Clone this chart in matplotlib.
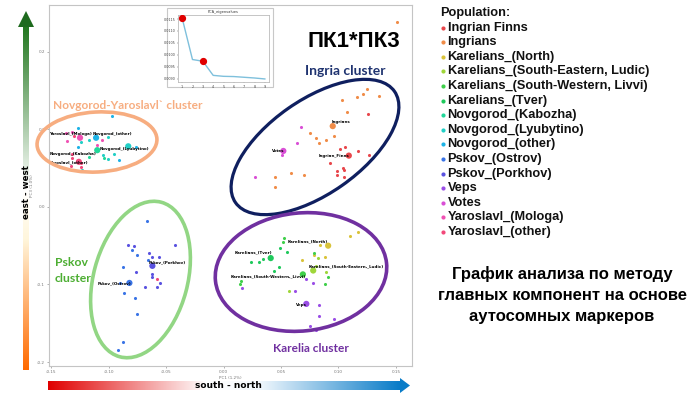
import numpy as np
import matplotlib
matplotlib.use("Agg")
import matplotlib.pyplot as plt
from matplotlib.patches import Ellipse, Polygon, Rectangle
from matplotlib.colors import LinearSegmentedColormap

# ---------------- data ----------------
populations = ["Ingrian Finns", "Ingrians", "Karelians_(North)",
               "Karelians_(South-Eastern, Ludic)", "Karelians_(South-Western, Livvi)",
               "Karelians_(Tver)", "Novgorod_(Kabozha)", "Novgorod_(Lyubytino)",
               "Novgorod_(other)", "Pskov_(Ostrov)", "Pskov_(Porkhov)", "Veps", "Votes",
               "Yaroslavl_(Mologa)", "Yaroslavl_(other)"]
point_labels = ["Ingrian_Finns", "Ingrians", "Karelians_(North)",
                "Karelians_(South-Eastern,_Ludic)", "Karelians_(South-Western,_Livvi)",
                "Karelians_(Tver)", "Novgorod_(Kabozha)", "Novgorod_(Lyubytino)",
                "Novgorod_(other)", "Pskov_(Ostrov)", "Pskov_(Porkhov)", "Veps", "Votes",
                "Yaroslavl_(Mologa)", "Yaroslavl_(other)"]
colors = ['#e8474c', '#f08c48', '#d9c33a', '#9fd63a', '#3fcf4a', '#1fc95c', '#22d79a',
          '#22cfc6', '#1eb3e6', '#3a74e6', '#5a52e0', '#9a4ee6', '#d94fd6', '#f052b4', '#f2487a']

ingrian_finns_x = [0.126, 0.106, 0.101, 0.109, 0.117, 0.127, 0.093, 0.104, 0.105, 0.099, 0.099, 0.105]
ingrian_finns_y = [0.120, 0.077, 0.075, 0.066, 0.072, 0.067, 0.057, 0.050, 0.048, 0.046, 0.041, 0.039]
ingrians_x = [0.151, 0.125, 0.121, 0.116, 0.135, 0.103, 0.107, 0.095, 0.075, 0.080, 0.083, 0.089,
              0.096, 0.070, 0.059, 0.045, 0.045]
ingrians_y = [0.238, 0.152, 0.145, 0.141, 0.143, 0.138, 0.122, 0.104, 0.095, 0.089, 0.082, 0.086,
              0.091, 0.041, 0.044, 0.039, 0.026]
karel_north_x = [0.117, 0.110, 0.091, 0.084, 0.079, 0.068, 0.088]
karel_north_y = [-0.032, -0.037, -0.050, -0.049, -0.062, -0.068, -0.064]
karel_se_x = [0.078, 0.089, 0.080, 0.057, 0.082]
karel_se_y = [-0.082, -0.084, -0.076, -0.108, -0.066]
karel_sw_x = [0.053, 0.052, 0.069, 0.015, 0.014, 0.088, 0.091, 0.079]
karel_sw_y = [-0.040, -0.045, -0.087, -0.095, -0.099, -0.100, -0.091, -0.059]
karel_tver_x = [0.041, 0.024, 0.031, 0.034, 0.044, 0.048, 0.049, 0.055]
karel_tver_y = [-0.066, -0.071, -0.071, -0.067, -0.082, -0.078, -0.053, -0.058]
nov_kabozha_x = [-0.110, -0.117, -0.104]
nov_kabozha_y = [0.073, 0.064, 0.063]
nov_lyub_x = [-0.117, -0.101, -0.083, -0.105, -0.095, -0.101, -0.123, -0.124]
nov_lyub_y = [0.086, 0.090, 0.078, 0.067, 0.068, 0.062, 0.048, 0.084]
nov_other_x = [-0.097, -0.127, -0.111, -0.127, -0.076, -0.091]
nov_other_y = [0.117, 0.102, 0.089, 0.077, 0.077, 0.060]
pskov_ostrov_x = [-0.067, -0.080, -0.075, -0.066, -0.088, -0.082, -0.090, -0.087, -0.077, -0.075,
                  -0.088, -0.092]
pskov_ostrov_y = [-0.018, -0.055, -0.062, -0.068, -0.077, -0.098, -0.098, -0.111, -0.118, -0.138,
                  -0.174, -0.184]
pskov_porkhov_x = [-0.083, -0.078, -0.065, -0.062, -0.056, -0.042, -0.062, -0.076, -0.062, -0.062,
                   -0.055, -0.068, -0.058]
pskov_porkhov_y = [-0.049, -0.050, -0.060, -0.064, -0.064, -0.049, -0.076, -0.084, -0.087, -0.091,
                   -0.098, -0.103, -0.103]
veps_x = [0.016, 0.062, 0.072, 0.078, 0.072, 0.083, 0.083, 0.096, 0.075, 0.080]
veps_y = [-0.104, -0.108, -0.093, -0.098, -0.125, -0.126, -0.140, -0.145, -0.153, -0.158]
votes_x = [0.067, 0.064, 0.052, 0.051, 0.027]
votes_y = [0.103, 0.082, 0.072, 0.067, 0.039]
yar_mologa_x = [-0.137, -0.132, -0.125, -0.136, -0.106, -0.110]
yar_mologa_y = [0.095, 0.097, 0.089, 0.085, 0.086, 0.080]
yar_other_x = [-0.132, -0.132, -0.124, -0.133, -0.124, -0.130, -0.058]
yar_other_y = [0.068, 0.063, 0.057, 0.053, 0.051, 0.091, -0.093]

# population centroids (large markers)
centroid_x = [0.109, 0.095, 0.091, 0.078, 0.069, 0.041, -0.110, -0.083, -0.111, -0.082, -0.062,
              0.072, 0.052, -0.125, -0.126]
centroid_y = [0.066, 0.104, -0.050, -0.082, -0.087, -0.066, 0.073, 0.078, 0.089, -0.098, -0.076,
              -0.125, 0.072, 0.089, 0.058]

# scree plot (inset)
eigen_pc = [1, 2, 3, 4, 5, 6, 7, 8, 9]
eigenvalues = [0.01154, 0.00981, 0.00974, 0.00915, 0.00911, 0.00910, 0.00907, 0.00904, 0.00900]

xs = [ingrian_finns_x, ingrians_x, karel_north_x, karel_se_x, karel_sw_x, karel_tver_x,
      nov_kabozha_x, nov_lyub_x, nov_other_x, pskov_ostrov_x, pskov_porkhov_x, veps_x, votes_x,
      yar_mologa_x, yar_other_x]
ys = [ingrian_finns_y, ingrians_y, karel_north_y, karel_se_y, karel_sw_y, karel_tver_y,
      nov_kabozha_y, nov_lyub_y, nov_other_y, pskov_ostrov_y, pskov_porkhov_y, veps_y, votes_y,
      yar_mologa_y, yar_other_y]

# label anchor positions (left edge, data coords)
label_pos = {
    "Ingrian_Finns": (0.0825, 0.066), "Ingrians": (0.094, 0.109),
    "Karelians_(North)": (0.056, -0.045), "Karelians_(South-Eastern,_Ludic)": (0.074, -0.077),
    "Karelians_(South-Western,_Livvi)": (0.0057, -0.090), "Karelians_(Tver)": (0.010, -0.059),
    "Novgorod_(Kabozha)": (-0.1515, 0.068), "Novgorod_(Lyubytino)": (-0.108, 0.075),
    "Novgorod_(other)": (-0.114, 0.094), "Pskov_(Ostrov)": (-0.110, -0.099),
    "Pskov_(Porkhov)": (-0.065, -0.072), "Veps": (0.063, -0.126), "Votes": (0.042, 0.072),
    "Yaroslavl_(Mologa)": (-0.1515, 0.094), "Yaroslavl_(other)": (-0.1515, 0.057),
}

W, H = 700, 394
fig = plt.figure(figsize=(7, 3.94), dpi=100)
fig.patch.set_facecolor('white')

def fx(px):
    return px / W

def fy(py):
    return 1 - py / H

# ---------------- main PCA axes ----------------
ax = fig.add_axes([fx(49), fy(366), (412 - 49) / W, (366 - 5) / H])
for x, y, c in zip(xs, ys, colors):
    ax.scatter(x, y, s=5, color=c, linewidths=0, zorder=3)
ax.scatter(centroid_x, centroid_y, s=20, c=colors, linewidths=0, zorder=4)
for lab in point_labels:
    lx, ly = label_pos[lab]
    ax.text(lx, ly, lab, fontsize=2.9, fontweight='bold', color='black', ha='left',
            va='center', zorder=5)
ax.set_xlim(-0.152, 0.164)
ax.set_ylim(-0.205, 0.26)
ax.set_xticks([-0.15, -0.10, -0.05, 0.00, 0.05, 0.10, 0.15])
ax.set_xticklabels(["-0.15", "-0.10", "-0.05", "0.00", "0.05", "0.10", "0.15"])
ax.set_yticks([-0.2, -0.1, 0.0, 0.1, 0.2])
ax.set_yticklabels(["-0.2", "-0.1", "0.0", "0.1", "0.2"])
ax.tick_params(labelsize=3, colors='#777777', length=1.5, width=0.4, pad=1.5)
ax.set_xlabel("PC1 (1.2%)", fontsize=3, color='#777777', labelpad=1)
ax.set_ylabel("PC3 (1.0%)", fontsize=3, color='#777777', labelpad=2)
for sp in ax.spines.values():
    sp.set_color('#c4c4c4')
    sp.set_linewidth(0.8)

# ---------------- overlay (pixel coordinates) ----------------
ov = fig.add_axes([0, 0, 1, 1], zorder=5)
ov.set_facecolor('none')
ov.axis('off')

def gradient(stops, n=256):
    cmap = LinearSegmentedColormap.from_list('g', stops)
    return cmap(np.linspace(0, 1, n))

# vertical east-west arrow
vg = gradient([(0.0, '#22771f'), (0.47, '#ffffff'), (0.62, '#fff6dc'), (1.0, '#ff6a00')])
ov.imshow(vg[:, None, :], extent=(23, 29, 370, 26), aspect='auto', origin='upper',
          interpolation='bilinear', zorder=1)
ov.add_patch(Polygon([(18, 27), (34, 27), (26, 11)], closed=True, color='#1e6a1e', lw=0, zorder=2))
ov.text(26.5, 192, "east - west", rotation=90, fontsize=6.2, fontweight='bold',
        ha='center', va='center', color='black', zorder=3)

# horizontal south-north arrow
hg = gradient([(0.0, '#e00000'), (0.45, '#ffffff'), (0.6, '#f2f8fd'), (1.0, '#0a7cc8')])
ov.imshow(hg[None, :, :], extent=(48, 400, 390, 381), aspect='auto', origin='upper',
          interpolation='bilinear', zorder=1)
ov.add_patch(Polygon([(400, 378), (400, 393), (410, 385.5)], closed=True, color='#0a7cc8',
                     lw=0, zorder=2))
ov.text(228, 386, "south - north", fontsize=6.5, fontweight='bold', ha='center',
        va='center', color='black', zorder=3)

# cluster ellipses
ov.add_patch(Ellipse((97, 142), 120, 60, angle=-3, fill=False, ec='#f7ad80', lw=2.6))
ov.add_patch(Ellipse((315, 147), 194, 94, angle=-35, fill=False, ec='#0f1f5f', lw=2.3))
ov.add_patch(Ellipse((140.5, 279.5), 160, 94, angle=-75, fill=False, ec='#92d684', lw=2.6))
ov.add_patch(Ellipse((301, 272), 172, 118, angle=-6, fill=False, ec='#7030a0', lw=2.6))

cl_font = dict(family='Lato', fontweight='bold')
ov.text(53, 105, "Novgorod-Yaroslavl` cluster", fontsize=8.6, color='#f7ad80', ha='left',
        va='center', **cl_font)
ov.text(305, 71, "Ingria cluster", fontsize=10, color='#1f3370', ha='left', va='center', **cl_font)
ov.text(55, 263, "Pskov", fontsize=8.8, color='#4cae32', ha='left', va='center', **cl_font)
ov.text(55, 279, "cluster", fontsize=8.8, color='#4cae32', ha='left', va='center', **cl_font)
ov.text(273, 348, "Karelia cluster", fontsize=8.6, color='#7030a0', ha='left', va='center', **cl_font)

ov.text(354, 41, "ПК1*ПК3", fontsize=16, fontweight='bold', family='Liberation Sans',
        ha='center', va='center', color='black')

# legend
ov.text(440, 13, "Population:", fontsize=9.2, fontweight='bold', family='Liberation Sans',
        ha='left', va='center', color='#111111')
for i, (name, c) in enumerate(zip(populations, colors)):
    yy = 27.5 + i * 14.6
    ov.scatter([443], [yy], s=9, color=c, linewidths=0)
    ov.text(447.5, yy, name, fontsize=9.2, fontweight='bold', family='Liberation Sans',
            ha='left', va='center', color='#111111')

ov.text(562, 295, "График анализа по методу\nглавных компонент на основе\nаутосомных маркеров",
        fontsize=12, fontweight='bold', family='Liberation Sans', ha='center', va='center',
        linespacing=1.5, color='black')

ov.set_xlim(0, W)
ov.set_ylim(H, 0)

# ---------------- inset scree plot ----------------
box = fig.add_axes([0, 0, 1, 1], zorder=6)
box.set_facecolor('none')
box.axis('off')
box.add_patch(Rectangle((167, 8), 106, 79, fc='white', ec='#c8c8c8', lw=0.8))
box.set_xlim(0, W)
box.set_ylim(H, 0)

ins = fig.add_axes([fx(178), fy(82), (269 - 178) / W, (82 - 15) / H], zorder=7)
ins.plot(eigen_pc, eigenvalues, color='#7ec0dc', lw=1.0, zorder=2)
ins.plot([eigen_pc[0], eigen_pc[2]], [eigenvalues[0], eigenvalues[2]], 'o', color='#e00000',
         ms=4.2, zorder=3, ls='none')
ins.set_title("PCA_eigenvalues", fontsize=2.6, pad=1.5, color='#333333')
ins.set_xticks(eigen_pc)
ins.set_yticks([0.0090, 0.0095, 0.0100, 0.0105, 0.0110, 0.0115])
ins.set_yticklabels(["0.0090", "0.0095", "0.0100", "0.0105", "0.0110", "0.0115"])
ins.tick_params(labelsize=2.4, length=1, width=0.3, pad=1, colors='#444444')
for sp in ins.spines.values():
    sp.set_color('#bbbbbb')
    sp.set_linewidth(0.6)

fig.savefig("out.png", dpi=100, facecolor='white')
